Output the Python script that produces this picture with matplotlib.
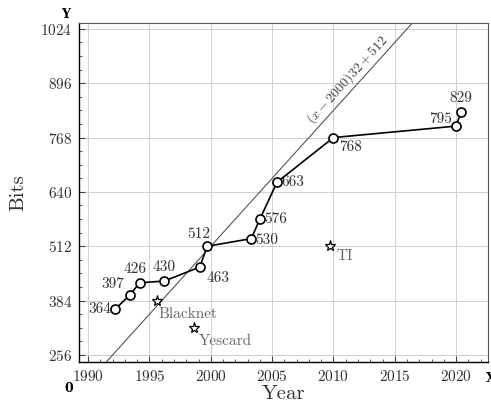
import matplotlib
matplotlib.use("Agg")
import matplotlib.pyplot as plt
from matplotlib.ticker import MultipleLocator
import numpy as np

plt.rcParams['font.family'] = 'serif'
plt.rcParams['font.serif'] = ['cmr10']
plt.rcParams['mathtext.fontset'] = 'cm'
plt.rcParams['axes.formatter.use_mathtext'] = True

years = [1992.2, 1993.4, 1994.2, 1996.2, 1999.1, 1999.7, 2003.3, 2004.0, 2005.4, 2010.0, 2020.0, 2020.4]
bits = [364, 397, 426, 430, 463, 512, 530, 576, 663, 768, 795, 829]
labels = [str(b) for b in bits]
# label offsets in points (dx, dy), ha, va
offsets = [(-3, 0, 'right', 'center'), (-4, 3, 'right', 'bottom'), (-3, 5, 'center', 'bottom'),
           (0, 5, 'center', 'bottom'), (5, -3, 'left', 'top'), (-6, 4, 'center', 'bottom'),
           (3, -1, 'left', 'center'), (3, 0, 'left', 'center'), (3, 0, 'left', 'center'),
           (4, -2, 'left', 'top'), (-3, 5, 'right', 'center'), (0, 5, 'center', 'bottom')]

star_years = [1995.6, 1998.6, 2009.7]
star_bits = [384, 320, 512]
star_labels = ['Blacknet', 'Yescard', 'TI']
star_offsets = [(1, -5), (4, -5), (5, -2)]

xmin, xmax = 1989.26, 2022.6
ymin, ymax = 239.5, 1038

fig = plt.figure(figsize=(4.91, 4.09), dpi=100)
ax = fig.add_axes([0.161, 0.115, 0.833, 0.829])
ax.set_xlim(xmin, xmax)
ax.set_ylim(ymin, ymax)

ax.xaxis.set_major_locator(MultipleLocator(5))
ax.xaxis.set_minor_locator(MultipleLocator(1))
ax.set_yticks([256, 384, 512, 640, 768, 896, 1024])
ax.yaxis.set_minor_locator(MultipleLocator(32))
ax.grid(True, which='major', color='#d0d0d0', lw=0.7)
ax.set_axisbelow(True)
ax.tick_params(which='both', direction='in', labelsize=11, colors='#444444', labelcolor='#333333')
ax.tick_params(which='major', length=4)
ax.tick_params(which='minor', length=2.5)
ax.tick_params(axis='x', pad=5)
ax.tick_params(axis='y', pad=5)
for s in ['left', 'bottom']:
    ax.spines[s].set_color('black')
    ax.spines[s].set_linewidth(1.0)
for s in ['top', 'right']:
    ax.spines[s].set_color('#555555')
    ax.spines[s].set_linewidth(0.8)

# reference line
lx = np.array([xmin, xmax])
ax.plot(lx, (lx - 2000) * 32 + 512, color='#555555', lw=0.8, zorder=2)
p1 = ax.transData.transform((2000, 512))
p2 = ax.transData.transform((2010, 832))
ang = np.degrees(np.arctan2(p2[1] - p1[1], p2[0] - p1[0]))
ax.text(2011.7, (2011.7 - 2000) * 32 + 512 + 3, r'$(x-2000)32+512$', rotation=ang,
        rotation_mode='anchor', ha='center', va='bottom', fontsize=10, color='#444444')

ax.plot(years, bits, color='black', lw=1.2, marker='o', markersize=6.5,
        markerfacecolor='white', markeredgecolor='black', markeredgewidth=1.2, zorder=4)
for x, y, t, (dx, dy, ha, va) in zip(years, bits, labels, offsets):
    ax.annotate(t, (x, y), xytext=(dx, dy), textcoords='offset points', ha=ha, va=va,
                fontsize=11, color='#333333')

ax.plot(star_years, star_bits, linestyle='none', marker='*', markersize=8,
        markerfacecolor='white', markeredgecolor='black', markeredgewidth=0.9, zorder=4)
for x, y, t, (dx, dy) in zip(star_years, star_bits, star_labels, star_offsets):
    ax.annotate(t, (x, y), xytext=(dx, dy), textcoords='offset points', ha='left', va='top',
                fontsize=11, color='#666666')

ax.set_xlabel('Year', fontsize=15, color='#333333', labelpad=1)
ax.set_ylabel('Bits', fontsize=15, color='#333333', labelpad=9)
fig.text(66 / 491, 1 - 14 / 409, 'Y', fontsize=9, fontweight='bold', ha='center', va='center',
         family='DejaVu Serif')
fig.text(69 / 491, 1 - 388 / 409, '0', fontsize=9, fontweight='bold', ha='center', va='center',
         family='DejaVu Serif')
fig.text(486 / 491, 1 - 378 / 409, 'X', fontsize=9, fontweight='bold', ha='left', va='center',
         family='DejaVu Serif')

fig.savefig('out.png', dpi=100)
